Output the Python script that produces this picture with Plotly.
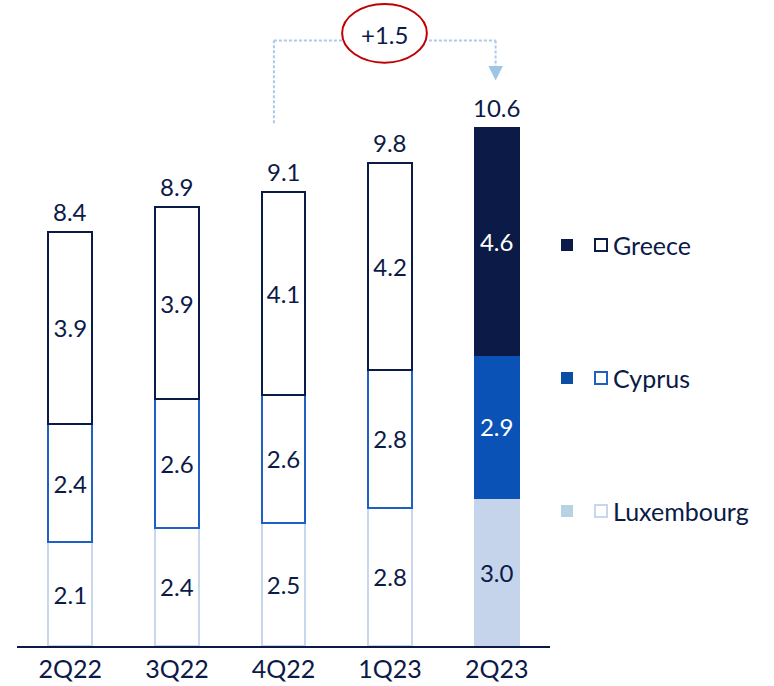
import plotly.graph_objects as go

# Quarterly breakdown by country (EUR bn)
quarters = ["2Q22", "3Q22", "4Q22", "1Q23", "2Q23"]
luxembourg = [2.1, 2.4, 2.5, 2.8, 3.0]
cyprus = [2.4, 2.6, 2.6, 2.8, 2.9]
greece = [3.9, 3.9, 4.1, 4.2, 4.6]
totals = [8.4, 8.9, 9.1, 9.8, 10.6]
change_label = "+1.5"

NAVY = "#0b1a47"
BLUE = "#0a52b5"
BLUE_LINE = "#1f60c4"
LUX_FILL = "#c5d4ea"
LUX_LINE = "#c9d7ee"
LUX_LEGEND = "#b6d3e4"
DASH = "#a9cbe9"
RED = "#c00000"
FONT = "Lato"
LABEL_SIZE = 24
TEXT_SIZE = 25

W, H = 774, 686
L, R, T, B = 17, W - 550, 0, 40
PLOT_W, PLOT_H = W - L - R, H - T - B
Y_MAX = 13.1

n = len(quarters)
last = n - 1


def per_bar(hollow, solid):
    return [solid if i == last else hollow for i in range(n)]


series = [
    ("Luxembourg", luxembourg, per_bar("white", LUX_FILL), per_bar(LUX_LINE, LUX_FILL),
     per_bar(NAVY, NAVY)),
    ("Cyprus", cyprus, per_bar("white", BLUE), per_bar(BLUE_LINE, BLUE),
     per_bar(NAVY, "white")),
    ("Greece", greece, per_bar("white", NAVY), per_bar(NAVY, NAVY),
     per_bar(NAVY, "white")),
]

fig = go.Figure()
for name, vals, fill, line, txt in series:
    fig.add_trace(go.Bar(
        x=quarters, y=vals, name=name,
        marker=dict(color=fill, line=dict(color=line, width=2)),
        text=[f"{v:.1f}" for v in vals],
        textposition="inside", insidetextanchor="middle", textangle=0,
        constraintext="none",
        textfont=dict(family=FONT, size=LABEL_SIZE, color=txt),
        width=0.41, showlegend=False, hoverinfo="skip",
    ))

# Totals above each stack
stack_tops = [a + b + c for a, b, c in zip(luxembourg, cyprus, greece)]
for q, top, tot in zip(quarters, stack_tops, totals):
    fig.add_annotation(x=q, y=top, text=f"{tot:.1f}", showarrow=False,
                       yanchor="bottom", yshift=4,
                       font=dict(family=FONT, size=LABEL_SIZE, color=NAVY))


def px_x(px):
    return (px - L) / PLOT_W


def px_y(py):
    return (T + PLOT_H - py) / PLOT_H


# Change bracket from 4Q22 to 2Q23
x_from, x_to = 1.91, 3.99
y_bar = 12.28
fig.add_shape(type="line", x0=x_from, x1=x_from, y0=10.6, y1=y_bar,
              line=dict(color=DASH, width=2, dash="3px,2px"))
fig.add_shape(type="line", x0=x_from, x1=x_to, y0=y_bar, y1=y_bar,
              line=dict(color=DASH, width=2, dash="3px,2px"))
fig.add_shape(type="line", x0=x_to, x1=x_to, y0=y_bar, y1=11.76,
              line=dict(color=DASH, width=2, dash="3px,2px"))
fig.add_shape(type="path",
              path=f"M {x_to - 0.068},11.76 L {x_to + 0.068},11.76 L {x_to},11.47 Z",
              fillcolor="#9cc6e8", line=dict(width=0))
fig.add_shape(type="circle", x0=2.55, x1=3.345, y0=11.83, y1=13.02,
              fillcolor="white", line=dict(color=RED, width=2))
fig.add_annotation(x=2.95, y=12.4, text=change_label, showarrow=False,
                   font=dict(family=FONT, size=LABEL_SIZE, color=NAVY))

# Legend: filled and hollow swatch per country
legend_rows = [
    ("Greece", 245, NAVY, NAVY),
    ("Cyprus", 378, "#0a4fa3", BLUE_LINE),
    ("Luxembourg", 511, LUX_LEGEND, LUX_LINE),
]
for label, cy, solid, outline in legend_rows:
    fig.add_shape(type="rect", xref="paper", yref="paper",
                  x0=px_x(561), x1=px_x(573), y0=px_y(cy + 6), y1=px_y(cy - 6),
                  fillcolor=solid, line=dict(width=0))
    fig.add_shape(type="rect", xref="paper", yref="paper",
                  x0=px_x(595), x1=px_x(607), y0=px_y(cy + 6), y1=px_y(cy - 6),
                  fillcolor="white", line=dict(color=outline, width=2))
    fig.add_annotation(xref="paper", yref="paper", x=px_x(611), y=px_y(cy),
                       text=label, showarrow=False, xanchor="left",
                       yanchor="middle",
                       font=dict(family=FONT, size=TEXT_SIZE, color=NAVY))

fig.update_layout(
    width=W, height=H, barmode="stack",
    margin=dict(l=L, r=R, t=T, b=B),
    plot_bgcolor="white", paper_bgcolor="white",
    font=dict(family=FONT, color=NAVY),
    xaxis=dict(range=[-0.5, n - 0.5], showgrid=False, zeroline=False,
               showline=True, linecolor=NAVY, linewidth=2, ticks="",
               tickfont=dict(family=FONT, size=TEXT_SIZE, color=NAVY)),
    yaxis=dict(range=[0, Y_MAX], visible=False, showgrid=False),
    showlegend=False,
)

fig.write_html("out.html")
